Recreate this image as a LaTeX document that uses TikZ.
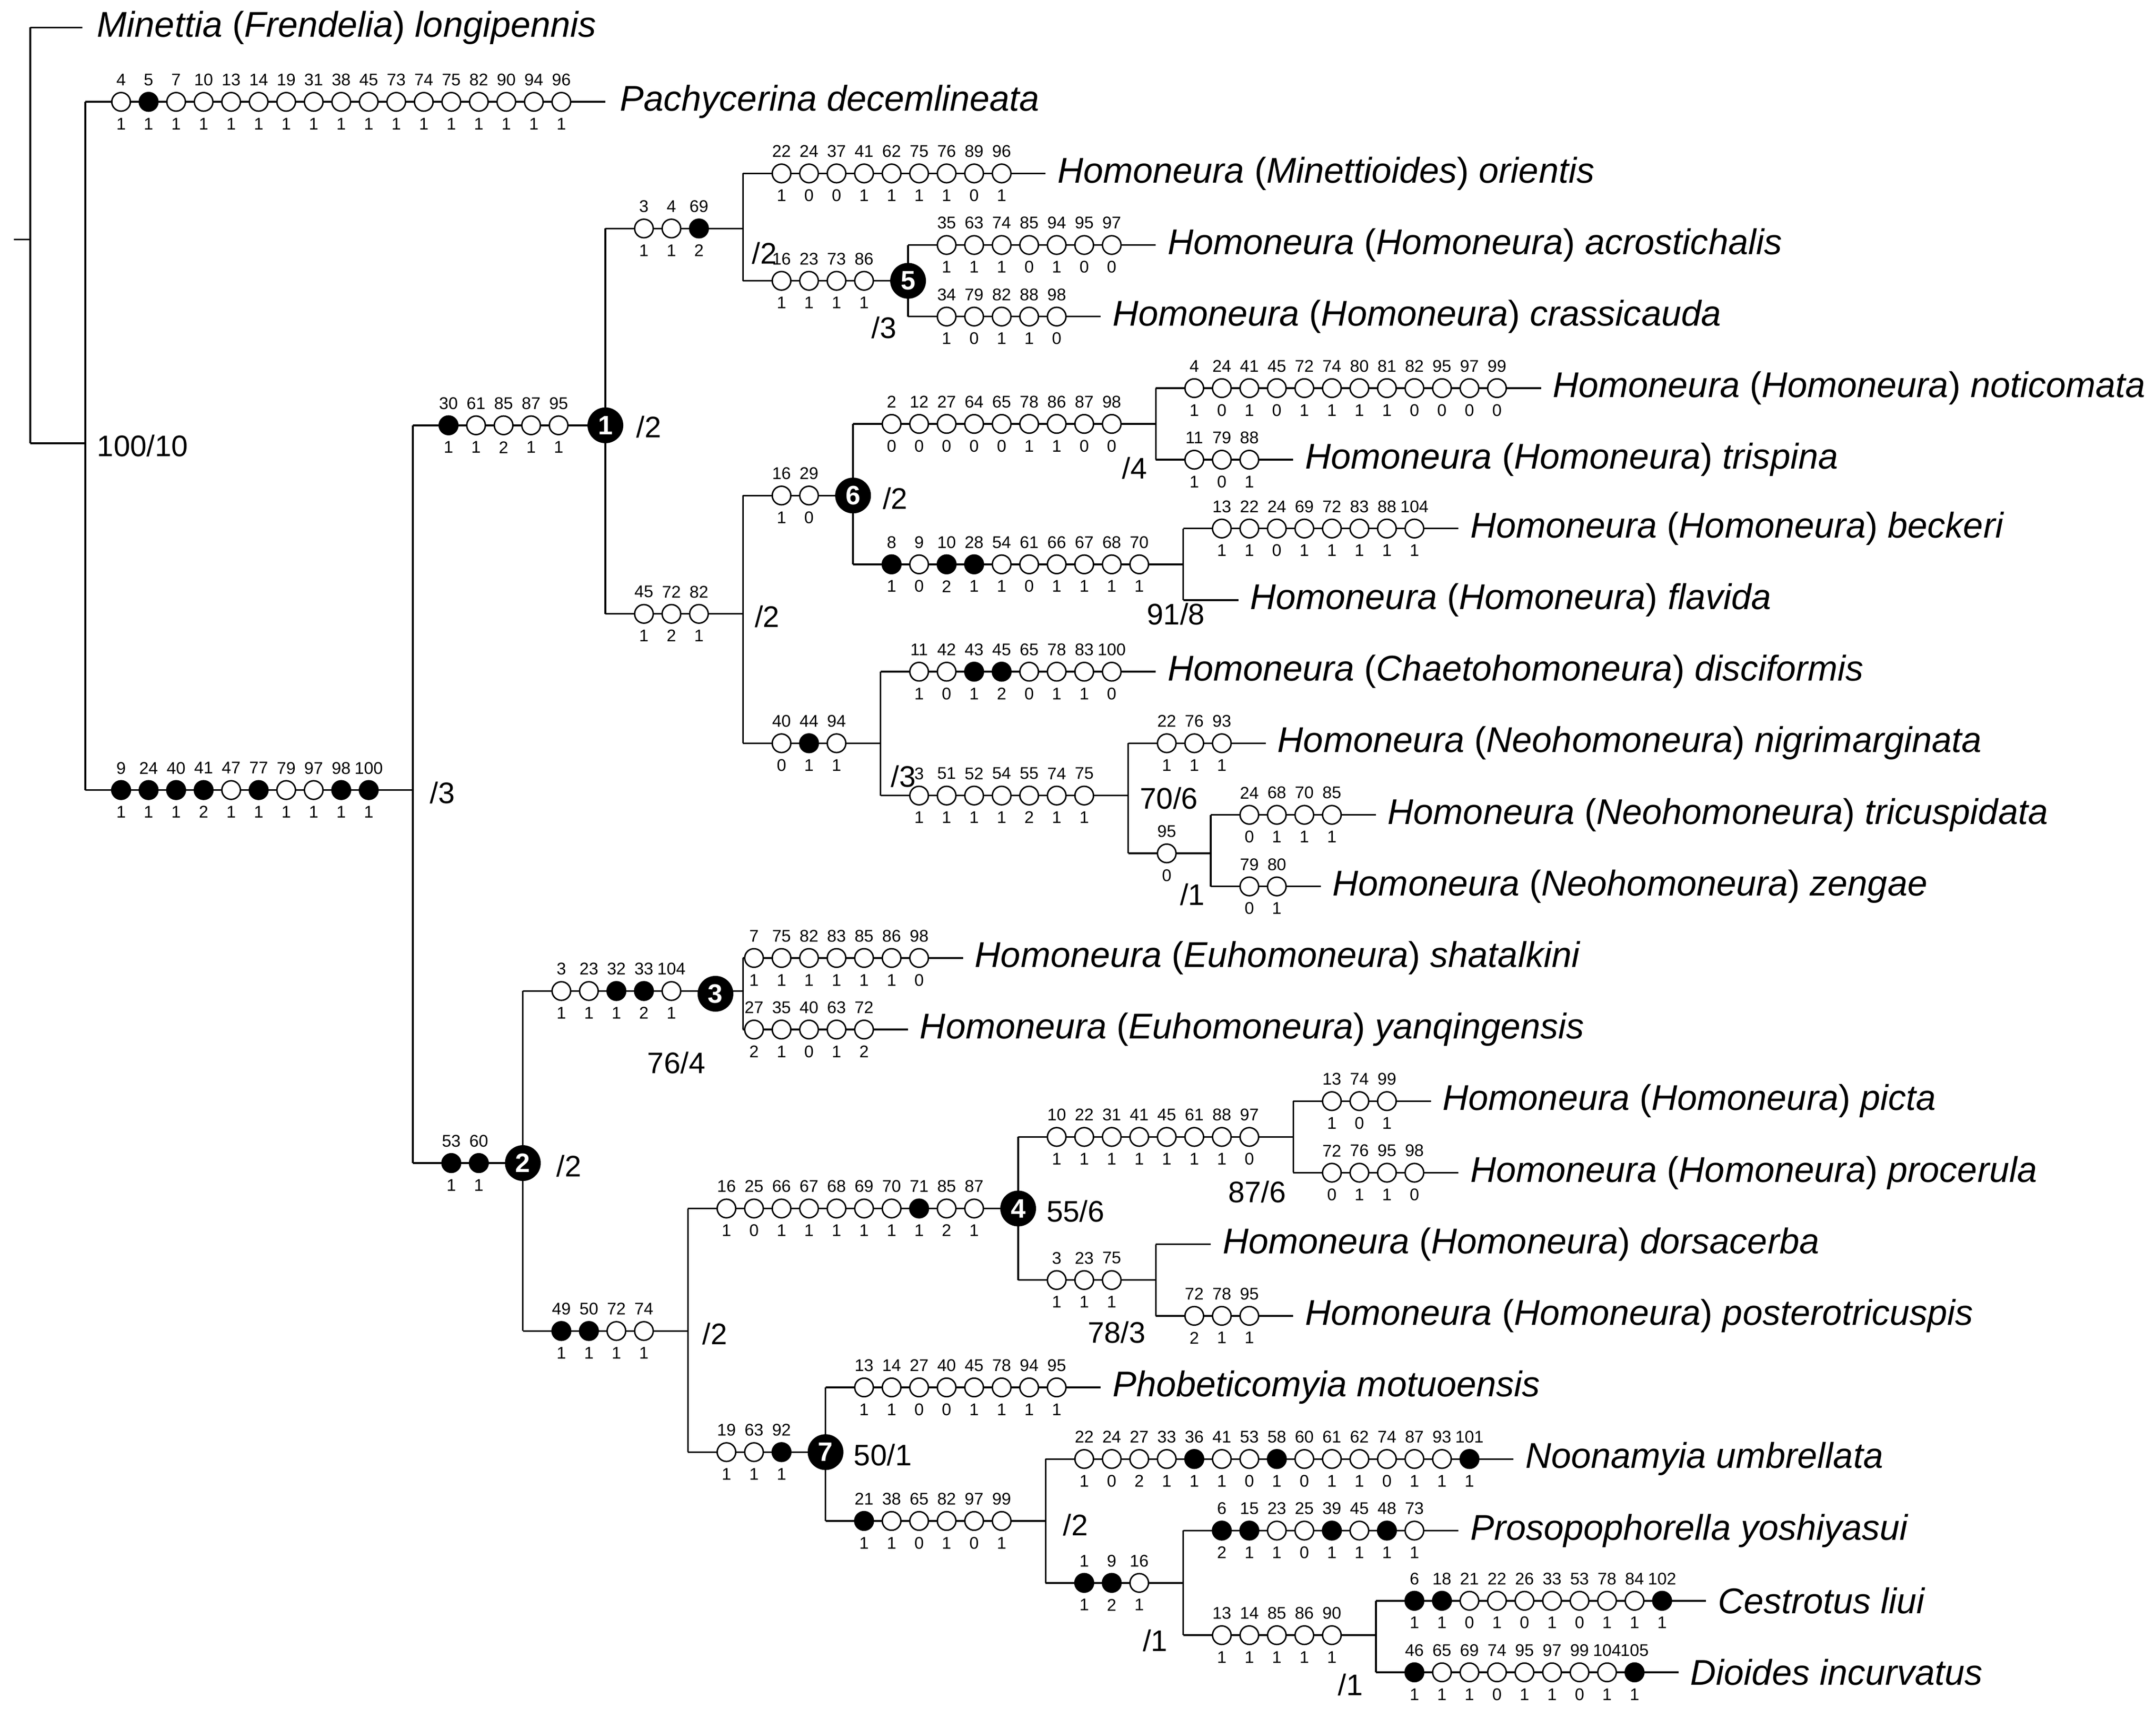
\documentclass[tikz,border=0pt]{standalone}
\usepackage{fontspec}
\setmainfont{Liberation Sans}
\begin{document}
\begin{tikzpicture}[x=0.02cm,y=-0.02cm,line width=0.7pt,
  ch/.style={circle,draw,line width=0.6pt,minimum size=13.5*0.02cm,inner sep=0pt},
  nb/.style={font=\fontsize{7}{8}\selectfont,inner sep=0pt},
  bn/.style={circle,fill=black,minimum size=26*0.02cm,inner sep=0pt,text=white,font=\fontsize{11}{12}\selectfont\bfseries},
  tx/.style={anchor=west,inner sep=0pt,font=\fontsize{14.8}{16}\selectfont},
  lb/.style={anchor=west,inner sep=0pt,font=\fontsize{12.3}{13}\selectfont}]
\useasboundingbox (0,0) rectangle (1567,1248);
\newcommand\brch[5]{%
  \draw (#1,#3) -- (#2,#3);
  \foreach \n/\s/\f [count=\i from 0] in {#5}{
    \ifnum\f=1 \node[ch,fill=black] at (#4+20*\i,#3) {};\else \node[ch,fill=white] at (#4+20*\i,#3) {};\fi
    \node[nb] at (#4+20*\i,#3-16) {\n};
    \node[nb] at (#4+20*\i,#3+16) {\s};
  }}
\newcommand\vl[3]{\draw (#1,#2) -- (#1,#3);}
\newcommand\bign[4]{\node[bn] (#1) at (#2,#3) {#4};}
% root
\draw (10,174) -- (22,174);
\vl{22}{20}{322}
\draw (22,20) -- (60,20);
\node[tx] (t1) at (70,20) {\textit{Minettia} (\textit{Frendelia}) \textit{longipennis}};
\draw (22,322) -- (62,322);
\node[lb] at (70,324) {100/10};
\vl{62}{74}{574}
\brch{62}{440}{74}{88}{4/1/0,5/1/1,7/1/0,10/1/0,13/1/0,14/1/0,19/1/0,31/1/0,38/1/0,45/1/0,73/1/0,74/1/0,75/1/0,82/1/0,90/1/0,94/1/0,96/1/0}
\node[tx] (t2) at (450,74) {\textit{Pachycerina decemlineata}};
\brch{62}{300}{574}{88}{9/1/1,24/1/1,40/1/1,41/2/1,47/1/0,77/1/1,79/1/0,97/1/0,98/1/1,100/1/1}
\node[lb] at (312,576) {/3};
\vl{300}{309}{845}
% clade 1
\brch{300}{440}{309}{326}{30/1/1,61/1/0,85/2/0,87/1/0,95/1/0}
\vl{440}{166}{446}
\bign{n1}{440}{309}{1}
\node[lb] at (462,310) {/2};
\brch{440}{540}{166}{468}{3/1/0,4/1/0,69/2/1}
\node[lb] at (546,184) {/2};
\vl{540}{126}{204}
\brch{540}{760}{126}{568}{22/1/0,24/0/0,37/0/0,41/1/0,62/1/0,75/1/0,76/1/0,89/0/0,96/1/0}
\node[tx] (t3) at (768,126) {\textit{Homoneura} (\textit{Minettioides}) \textit{orientis}};
\brch{540}{660}{204}{568}{16/1/0,23/1/0,73/1/0,86/1/0}
\vl{660}{178}{230}
\bign{n5}{660}{204}{5}
\node[lb] at (633,238) {/3};
\brch{660}{840}{178}{688}{35/1/0,63/1/0,74/1/0,85/0/0,94/1/0,95/0/0,97/0/0}
\node[tx] (t4) at (848,178) {\textit{Homoneura} (\textit{Homoneura}) \textit{acrostichalis}};
\brch{660}{800}{230}{688}{34/1/0,79/0/0,82/1/0,88/1/0,98/0/0}
\node[tx] (t5) at (808,230) {\textit{Homoneura} (\textit{Homoneura}) \textit{crassicauda}};
\brch{440}{540}{446}{468}{45/1/0,72/2/0,82/1/0}
\node[lb] at (548,448) {/2};
\vl{540}{360}{540}
\brch{540}{620}{360}{568}{16/1/0,29/0/0}
\vl{620}{308}{410}
\bign{n6}{620}{360}{6}
\node[lb] at (641,362) {/2};
\brch{620}{840}{308}{648}{2/0/0,12/0/0,27/0/0,64/0/0,65/0/0,78/1/0,86/1/0,87/0/0,98/0/0}
\node[lb] at (815,340) {/4};
\vl{840}{282}{334}
\brch{840}{1120}{282}{868}{4/1/0,24/0/0,41/1/0,45/0/0,72/1/0,74/1/0,80/1/0,81/1/0,82/0/0,95/0/0,97/0/0,99/0/0}
\node[tx] (t6) at (1128,282) {\textit{Homoneura} (\textit{Homoneura}) \textit{noticomata}};
\brch{840}{940}{334}{868}{11/1/0,79/0/0,88/1/0}
\node[tx] (t7) at (948,334) {\textit{Homoneura} (\textit{Homoneura}) \textit{trispina}};
\brch{620}{860}{410}{648}{8/1/1,9/0/0,10/2/1,28/1/1,54/1/0,61/0/0,66/1/0,67/1/0,68/1/0,70/1/0}
\node[lb] at (833,446) {91/8};
\vl{860}{384}{436}
\brch{860}{1060}{384}{888}{13/1/0,22/1/0,24/0/0,69/1/0,72/1/0,83/1/0,88/1/0,104/1/0}
\node[tx] (t8) at (1068,384) {\textit{Homoneura} (\textit{Homoneura}) \textit{beckeri}};
\draw (860,436) -- (900,436);
\node[tx] (t9) at (908,436) {\textit{Homoneura} (\textit{Homoneura}) \textit{flavida}};
\brch{540}{640}{540}{568}{40/0/0,44/1/1,94/1/0}
\node[lb] at (647,564) {/3};
\vl{640}{488}{578}
\brch{640}{840}{488}{668}{11/1/0,42/0/0,43/1/1,45/2/1,65/0/0,78/1/0,83/1/0,100/0/0}
\node[tx] (t10) at (848,488) {\textit{Homoneura} (\textit{Chaetohomoneura}) \textit{disciformis}};
\brch{640}{820}{578}{668}{3/1/0,51/1/0,52/1/0,54/1/0,55/2/0,74/1/0,75/1/0}
\node[lb] at (828,580) {70/6};
\vl{820}{540}{620}
\brch{820}{920}{540}{848}{22/1/0,76/1/0,93/1/0}
\node[tx] (t11) at (928,540) {\textit{Homoneura} (\textit{Neohomoneura}) \textit{nigrimarginata}};
\brch{820}{880}{620}{848}{95/0/0}
\node[lb] at (857,650) {/1};
\vl{880}{592}{644}
\brch{880}{1000}{592}{908}{24/0/0,68/1/0,70/1/0,85/1/0}
\node[tx] (t12) at (1008,592) {\textit{Homoneura} (\textit{Neohomoneura}) \textit{tricuspidata}};
\brch{880}{960}{644}{908}{79/0/0,80/1/0}
\node[tx] (t13) at (968,644) {\textit{Homoneura} (\textit{Neohomoneura}) \textit{zengae}};
% clade 2
\brch{300}{380}{845}{328}{53/1/1,60/1/1}
\vl{380}{720}{967}
\bign{n2}{380}{845}{2}
\node[lb] at (404,847) {/2};
\brch{380}{540}{720}{408}{3/1/0,23/1/0,32/1/1,33/2/1,104/1/0}
\vl{540}{696}{748}
\bign{n3}{520}{722}{3}
\node[lb] at (470,772) {76/4};
\brch{540}{700}{696}{548}{7/1/0,75/1/0,82/1/0,83/1/0,85/1/0,86/1/0,98/0/0}
\node[tx] (t14) at (708,696) {\textit{Homoneura} (\textit{Euhomoneura}) \textit{shatalkini}};
\brch{540}{660}{748}{548}{27/2/0,35/1/0,40/0/0,63/1/0,72/2/0}
\node[tx] (t15) at (668,748) {\textit{Homoneura} (\textit{Euhomoneura}) \textit{yanqingensis}};
\brch{380}{500}{967}{408}{49/1/1,50/1/1,72/1/0,74/1/0}
\node[lb] at (510,969) {/2};
\vl{500}{878}{1055}
\brch{500}{740}{878}{528}{16/1/0,25/0/0,66/1/0,67/1/0,68/1/0,69/1/0,70/1/0,71/1/1,85/2/0,87/1/0}
\vl{740}{826}{930}
\bign{n4}{740}{878}{4}
\node[lb] at (760,880) {55/6};
\brch{740}{940}{826}{768}{10/1/0,22/1/0,31/1/0,41/1/0,45/1/0,61/1/0,88/1/0,97/0/0}
\node[lb] at (892,866) {87/6};
\vl{940}{800}{852}
\brch{940}{1040}{800}{968}{13/1/0,74/0/0,99/1/0}
\node[tx] (t16) at (1048,800) {\textit{Homoneura} (\textit{Homoneura}) \textit{picta}};
\brch{940}{1060}{852}{968}{72/0/0,76/1/0,95/1/0,98/0/0}
\node[tx] (t17) at (1068,852) {\textit{Homoneura} (\textit{Homoneura}) \textit{procerula}};
\brch{740}{840}{930}{768}{3/1/0,23/1/0,75/1/0}
\node[lb] at (790,968) {78/3};
\vl{840}{904}{956}
\draw (840,904) -- (880,904);
\node[tx] (t18) at (888,904) {\textit{Homoneura} (\textit{Homoneura}) \textit{dorsacerba}};
\brch{840}{940}{956}{868}{72/2/0,78/1/0,95/1/0}
\node[tx] (t19) at (948,956) {\textit{Homoneura} (\textit{Homoneura}) \textit{posterotricuspis}};
\brch{500}{600}{1055}{528}{19/1/0,63/1/0,92/1/1}
\vl{600}{1008}{1105}
\bign{n7}{600}{1055}{7}
\node[lb] at (620,1057) {50/1};
\brch{600}{800}{1008}{628}{13/1/0,14/1/0,27/0/0,40/0/0,45/1/0,78/1/0,94/1/0,95/1/0}
\node[tx] (t20) at (808,1008) {\textit{Phobeticomyia motuoensis}};
\brch{600}{760}{1105}{628}{21/1/1,38/1/0,65/0/0,82/1/0,97/0/0,99/1/0}
\node[lb] at (772,1108) {/2};
\vl{760}{1060}{1150}
\brch{760}{1100}{1060}{788}{22/1/0,24/0/0,27/2/0,33/1/0,36/1/1,41/1/0,53/0/0,58/1/1,60/0/0,61/1/0,62/1/0,74/0/0,87/1/0,93/1/0,101/1/1}
\node[tx] (t21) at (1108,1060) {\textit{Noonamyia umbrellata}};
\brch{760}{860}{1150}{788}{1/1/1,9/2/1,16/1/0}
\node[lb] at (830,1192) {/1};
\vl{860}{1112}{1188}
\brch{860}{1060}{1112}{888}{6/2/1,15/1/1,23/1/0,25/0/0,39/1/1,45/1/0,48/1/1,73/1/0}
\node[tx] (t22) at (1068,1112) {\textit{Prosopophorella yoshiyasui}};
\brch{860}{1000}{1188}{888}{13/1/0,14/1/0,85/1/0,86/1/0,90/1/0}
\node[lb] at (972,1224) {/1};
\vl{1000}{1163}{1215}
\brch{1000}{1240}{1163}{1028}{6/1/1,18/1/1,21/0/0,22/1/0,26/0/0,33/1/0,53/0/0,78/1/0,84/1/0,102/1/1}
\node[tx] (t23) at (1248,1163) {\textit{Cestrotus liui}};
\brch{1000}{1220}{1215}{1028}{46/1/1,65/1/0,69/1/0,74/0/0,95/1/0,97/1/0,99/0/0,104/1/0,105/1/1}
\node[tx] (t24) at (1228,1215) {\textit{Dioides incurvatus}};
\end{tikzpicture}
\end{document}
